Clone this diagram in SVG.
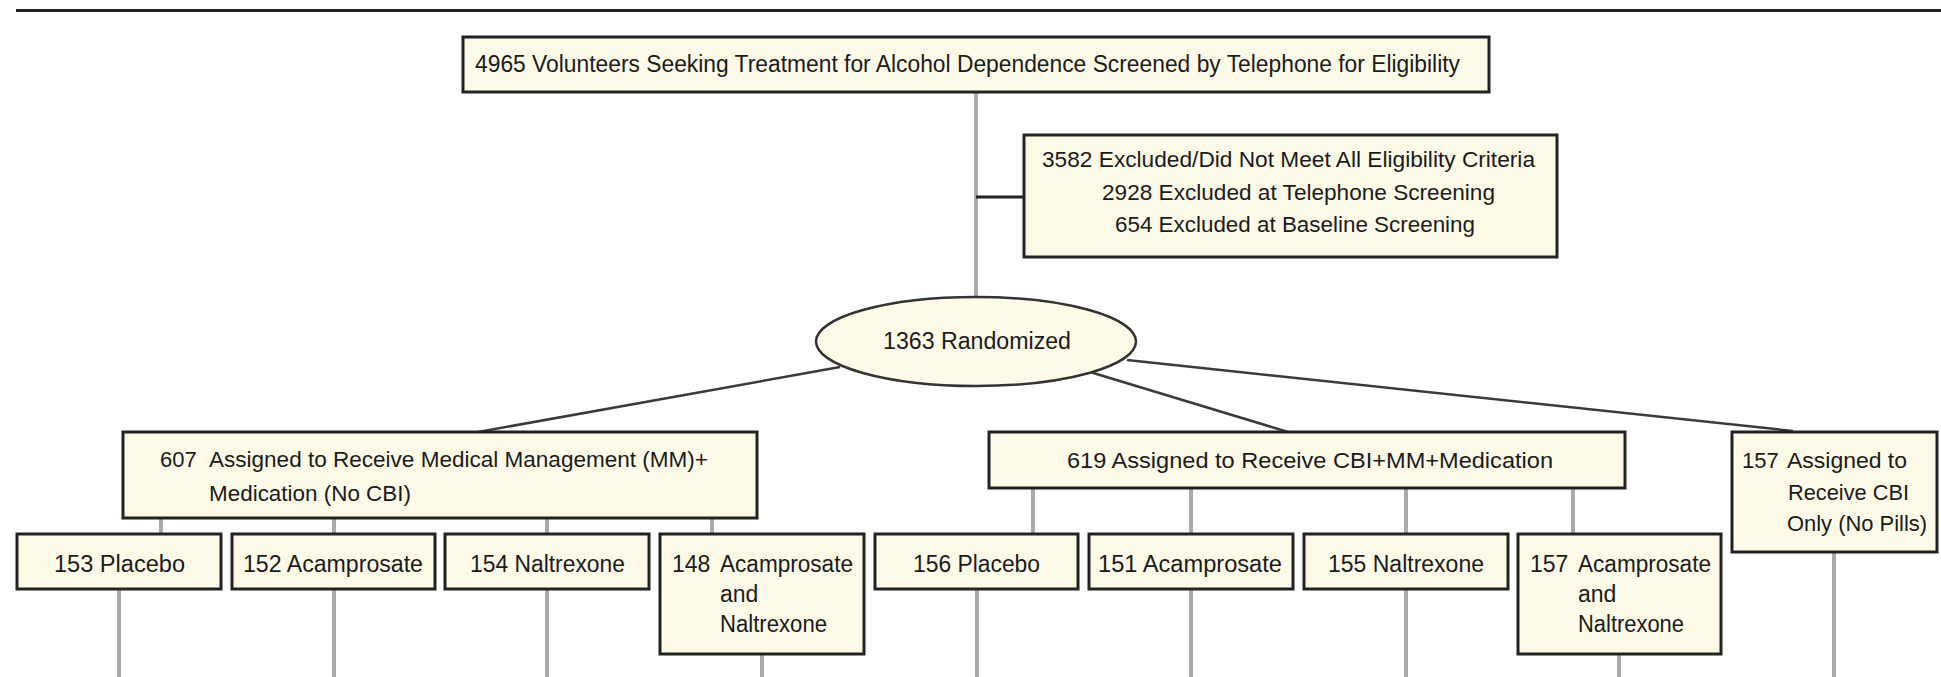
<svg xmlns="http://www.w3.org/2000/svg" width="1941" height="677" viewBox="0 0 1941 677">
<style>
.box{fill:#fdfbe7;stroke:#222;stroke-width:3}
.ell{fill:#fdfbe7;stroke:#333;stroke-width:2.5}
.t{font-family:"Liberation Sans",Arial,sans-serif;fill:#1a1a1a;font-size:22px}
.t23{font-size:23px}
.g{stroke:#aaa;stroke-width:4;fill:none}
.d{stroke:#3a3a3a;stroke-width:2.5;fill:none}
.k{stroke:#222;stroke-width:3;fill:none}
</style>
<rect x="16" y="9" width="1925" height="3" fill="#222"/>
<g id="connectors">
<line class="g" x1="976" y1="92" x2="976" y2="298"/>
<line class="k" x1="976" y1="197" x2="1024" y2="197"/>
<line class="d" x1="840" y1="367" x2="478" y2="432"/>
<line class="d" x1="1090" y1="372" x2="1288" y2="432"/>
<line class="d" x1="1127" y1="360" x2="1793" y2="431"/>
<line class="g" x1="161" y1="518" x2="161" y2="534"/>
<line class="g" x1="334" y1="518" x2="334" y2="534"/>
<line class="g" x1="547" y1="518" x2="547" y2="534"/>
<line class="g" x1="712" y1="518" x2="712" y2="534"/>
<line class="g" x1="1033" y1="488" x2="1033" y2="534"/>
<line class="g" x1="1191" y1="488" x2="1191" y2="534"/>
<line class="g" x1="1406" y1="488" x2="1406" y2="534"/>
<line class="g" x1="1573" y1="488" x2="1573" y2="534"/>
<line class="g" x1="119" y1="589" x2="119" y2="677"/>
<line class="g" x1="334" y1="589" x2="334" y2="677"/>
<line class="g" x1="547" y1="589" x2="547" y2="677"/>
<line class="g" x1="762" y1="654" x2="762" y2="677"/>
<line class="g" x1="977" y1="589" x2="977" y2="677"/>
<line class="g" x1="1191" y1="589" x2="1191" y2="677"/>
<line class="g" x1="1406" y1="589" x2="1406" y2="677"/>
<line class="g" x1="1619" y1="654" x2="1619" y2="677"/>
<line class="g" x1="1834" y1="552" x2="1834" y2="677"/>
</g>
<g id="screened">
<rect class="box" x="463" y="37" width="1026" height="55"/>
<text class="t t23" x="475" y="72" textLength="985" lengthAdjust="spacingAndGlyphs">4965 Volunteers Seeking Treatment for Alcohol Dependence Screened by Telephone for Eligibility</text>
</g>
<g id="excluded">
<rect class="box" x="1024" y="135" width="533" height="122"/>
<text class="t" x="1042" y="167" textLength="493" lengthAdjust="spacingAndGlyphs">3582  Excluded/Did Not Meet All Eligibility Criteria</text>
<text class="t" x="1102" y="200" textLength="393" lengthAdjust="spacingAndGlyphs">2928 Excluded at Telephone Screening</text>
<text class="t" x="1115" y="232" textLength="360" lengthAdjust="spacingAndGlyphs">654  Excluded at Baseline Screening</text>
</g>
<g id="randomized">
<ellipse class="ell" cx="976" cy="341.5" rx="160" ry="44.5"/>
<text class="t t23" x="883" y="349" textLength="188" lengthAdjust="spacingAndGlyphs">1363 Randomized</text>
</g>
<g id="mm">
<rect class="box" x="123" y="432" width="634" height="86"/>
<text class="t" x="160" y="467">607</text>
<text class="t" x="209" y="467" textLength="499" lengthAdjust="spacingAndGlyphs">Assigned to Receive Medical Management (MM)+</text>
<text class="t" x="209" y="501" textLength="202" lengthAdjust="spacingAndGlyphs">Medication (No CBI)</text>
</g>
<g id="cbi-mm">
<rect class="box" x="989" y="432" width="636" height="56"/>
<text class="t" x="1067" y="468" textLength="486" lengthAdjust="spacingAndGlyphs">619 Assigned to Receive CBI+MM+Medication</text>
</g>
<g id="cbi-only">
<rect class="box" x="1732" y="432" width="205" height="120"/>
<text class="t" x="1742" y="468">157</text>
<text class="t" x="1787" y="468" textLength="120" lengthAdjust="spacingAndGlyphs">Assigned to</text>
<text class="t" x="1788" y="500" textLength="121" lengthAdjust="spacingAndGlyphs">Receive CBI</text>
<text class="t" x="1787" y="531" textLength="140" lengthAdjust="spacingAndGlyphs">Only (No Pills)</text>
</g>
<g id="mm-placebo">
<rect class="box" x="17" y="534" width="204" height="55"/>
<text class="t t23" x="54" y="572" textLength="131" lengthAdjust="spacingAndGlyphs">153 Placebo</text>
</g>
<g id="mm-acamprosate">
<rect class="box" x="232" y="534" width="203" height="55"/>
<text class="t t23" x="243" y="572" textLength="180" lengthAdjust="spacingAndGlyphs">152 Acamprosate</text>
</g>
<g id="mm-naltrexone">
<rect class="box" x="445" y="534" width="204" height="55"/>
<text class="t t23" x="470" y="572" textLength="155" lengthAdjust="spacingAndGlyphs">154 Naltrexone</text>
</g>
<g id="mm-combined">
<rect class="box" x="660" y="534" width="204" height="120"/>
<text class="t t23" x="672" y="572">148</text>
<text class="t t23" x="720" y="572" textLength="133" lengthAdjust="spacingAndGlyphs">Acamprosate</text>
<text class="t t23" x="720" y="602">and</text>
<text class="t t23" x="720" y="632" textLength="107" lengthAdjust="spacingAndGlyphs">Naltrexone</text>
</g>
<g id="cbi-placebo">
<rect class="box" x="875" y="534" width="203" height="55"/>
<text class="t t23" x="913" y="572" textLength="127" lengthAdjust="spacingAndGlyphs">156 Placebo</text>
</g>
<g id="cbi-acamprosate">
<rect class="box" x="1089" y="534" width="204" height="55"/>
<text class="t t23" x="1098" y="572" textLength="184" lengthAdjust="spacingAndGlyphs">151 Acamprosate</text>
</g>
<g id="cbi-naltrexone">
<rect class="box" x="1304" y="534" width="204" height="55"/>
<text class="t t23" x="1328" y="572" textLength="156" lengthAdjust="spacingAndGlyphs">155 Naltrexone</text>
</g>
<g id="cbi-combined">
<rect class="box" x="1518" y="534" width="203" height="120"/>
<text class="t t23" x="1530" y="572">157</text>
<text class="t t23" x="1578" y="572" textLength="133" lengthAdjust="spacingAndGlyphs">Acamprosate</text>
<text class="t t23" x="1578" y="602">and</text>
<text class="t t23" x="1578" y="632" textLength="106" lengthAdjust="spacingAndGlyphs">Naltrexone</text>
</g>
</svg>
